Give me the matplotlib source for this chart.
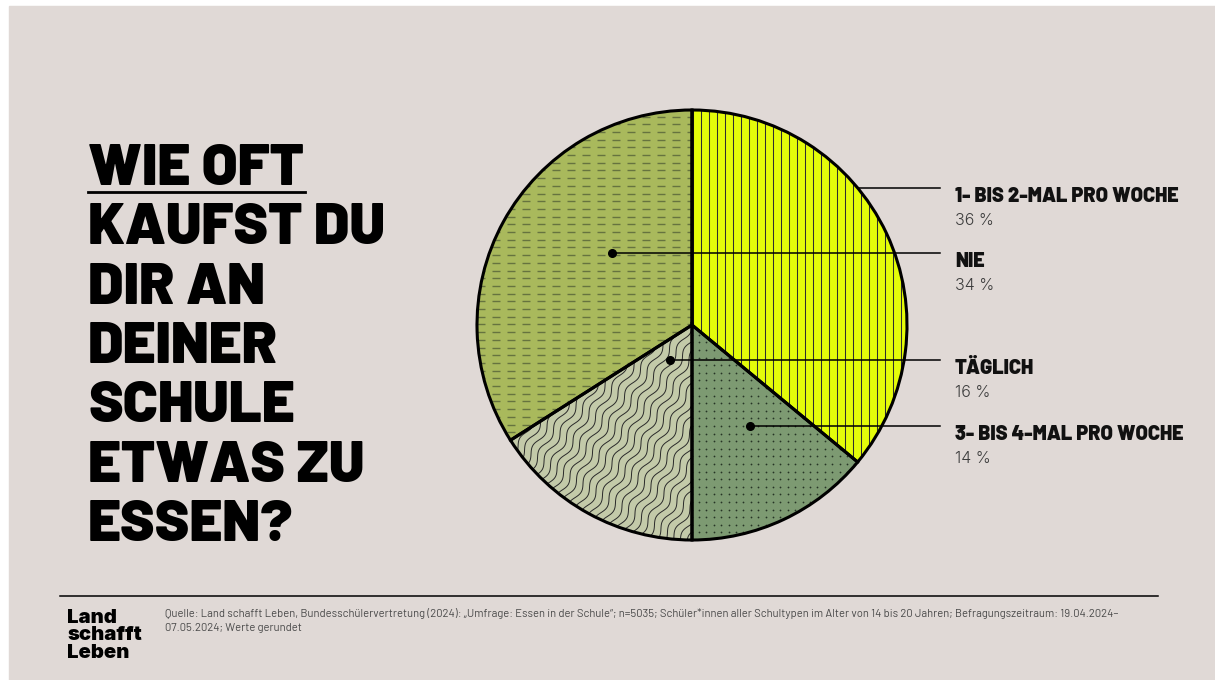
import numpy as np
import matplotlib
matplotlib.use("Agg")
import matplotlib.pyplot as plt
from matplotlib.patches import Rectangle
from matplotlib.collections import LineCollection

# survey answers, clockwise from 12 o'clock
answers = ["1- BIS 2-MAL PRO WOCHE", "3- BIS 4-MAL PRO WOCHE", "TÄGLICH", "NIE"]
shares = [36, 14, 16, 34]
fills = ["#e4fc0a", "#7d9a72", "#c3caa9", "#a9b95c"]

# order of the labels on the right, top to bottom
label_order = ["1- BIS 2-MAL PRO WOCHE", "NIE", "TÄGLICH", "3- BIS 4-MAL PRO WOCHE"]

title_lines = ["WIE OFT", "KAUFST DU", "DIR AN", "DEINER", "SCHULE", "ETWAS ZU", "ESSEN?"]
logo_lines = ["Land", "schafft", "Leben"]
source_lines = [
    "Quelle: Land schafft Leben, Bundesschülervertretung (2024): „Umfrage: Essen in der Schule“; n=5035; "
    "Schüler*innen aller Schultypen im Alter von 14 bis 20 Jahren; Befragungszeitraum: 19.04.2024–",
    "07.05.2024; Werte gerundet",
]

W, H = 1215, 680
BG = "#e0d9d6"
HEAVY = ["Barlow", "Roboto", "DejaVu Sans"]
LIGHT = ["Inter", "Roboto", "DejaVu Sans"]
SMALL = ["Barlow", "Roboto", "DejaVu Sans"]


def Y(y):
    # pixel row (from top) -> data y
    return H - y


fig = plt.figure(figsize=(W / 100, H / 100), dpi=100, facecolor="white")
ax = fig.add_axes([0, 0, 1, 1])
ax.add_patch(Rectangle((9, 0), W - 9, H - 6, color=BG, zorder=0))

# pie
cx, cy, R = 692, Y(325), 215
wedges, _ = ax.pie(shares, colors=fills, startangle=90, counterclock=False,
                   center=(cx, cy), radius=R, frame=True,
                   wedgeprops={"linewidth": 0, "zorder": 1})
w_yes12, w_yes34, w_daily, w_never = wedges

# vertical stripes
xs = np.arange(cx - R, cx + R, 8.0)
segs = [[(x, cy - R), (x, cy + R)] for x in xs]
lc = LineCollection(segs, colors="#2f2f2f", linewidths=0.75, zorder=2)
lc.set_clip_path(w_yes12)
ax.add_collection(lc)

# dot raster
gx, gy = np.meshgrid(np.arange(cx - R, cx + R, 7.4), np.arange(cy - R, cy + R, 7.6))
dots = ax.scatter(gx.ravel(), gy.ravel(), s=1.6, color="#253325", linewidths=0, zorder=2)
dots.set_clip_path(w_yes34)

# wavy lines
ang = np.deg2rad(60)
d = np.array([np.cos(ang), np.sin(ang)])
n = np.array([-np.sin(ang), np.cos(ang)])
t = np.linspace(-R * 1.5, R * 1.5, 500)
segs = []
for off in np.arange(-R * 1.5, R * 1.5, 7.5):
    wob = 2.6 * np.sin(t / 32.0 * 2 * np.pi)
    px = cx + t * d[0] + (off + wob) * n[0]
    py = cy + t * d[1] + (off + wob) * n[1]
    segs.append(np.column_stack([px, py]))
lc = LineCollection(segs, colors="#2a2a2a", linewidths=0.7, zorder=2)
lc.set_clip_path(w_daily)
ax.add_collection(lc)

# dashed rows
segs = []
for yy in np.arange(cy - R, cy + R, 7.7):
    for xx in np.arange(cx - R, cx + R, 15.0):
        segs.append([(xx, yy), (xx + 8.0, yy)])
lc = LineCollection(segs, colors="#66733f", linewidths=1.0, zorder=2)
lc.set_clip_path(w_never)
ax.add_collection(lc)

# outlines on top
ax.pie(shares, startangle=90, counterclock=False, center=(cx, cy), radius=R,
       frame=True, wedgeprops={"fill": False, "edgecolor": "black", "linewidth": 2.2, "zorder": 4})

ax.set_xlim(0, W)
ax.set_ylim(0, H)
ax.set_aspect("equal")
ax.axis("off")

# leader anchors inside the slices: (angle in deg, fraction of radius)
anchors = {
    "NIE": (137.7, 0.50),
    "TÄGLICH": (238.0, 0.19),
    "3- BIS 4-MAL PRO WOCHE": (-60.0, 0.54),
}
line_end = 940
label_x = 955
first_row = Y(188)
for name in label_order:
    pct = shares[answers.index(name)]
    if name in anchors:
        a, f = anchors[name]
        x0 = cx + f * R * np.cos(np.deg2rad(a))
        y0 = cy + f * R * np.sin(np.deg2rad(a))
        ax.plot([x0], [y0], "o", color="black", ms=5.5, zorder=6)
    else:
        y0 = first_row
        x0 = cx + np.sqrt(R ** 2 - (y0 - cy) ** 2)
    ax.plot([x0, line_end], [y0, y0], color="black", lw=1.1, zorder=5)
    ax.text(label_x, y0 - 14, name, family=HEAVY, fontweight=900, fontsize=14.3,
            color="#111111", va="baseline", ha="left")
    ax.text(label_x, y0 - 37, f"{pct} %", family=LIGHT, fontweight=300, fontsize=11.5,
            color="#3d3d3d", va="baseline", ha="left")

# headline
for i, line in enumerate(title_lines):
    ax.text(88, Y(185 + 59.3 * i), line, family=HEAVY, fontweight=900, fontsize=41.5,
            color="black", va="baseline", ha="left")
ax.plot([88, 305], [Y(192), Y(192)], color="black", lw=2.0)

# footer
ax.plot([60, 1158], [Y(596), Y(596)], color="black", lw=1.1)
for i, line in enumerate(logo_lines):
    ax.text(67, Y(623 + 17.5 * i), line, family=LIGHT, fontweight=900, fontsize=14.6,
            color="black", va="baseline", ha="left")
for i, line in enumerate(source_lines):
    ax.text(165, Y(617 + 14 * i), line, family=SMALL, fontsize=8.1,
            color="#4a4a4a", va="baseline", ha="left")

fig.savefig("out.png", dpi=100, facecolor="white")
